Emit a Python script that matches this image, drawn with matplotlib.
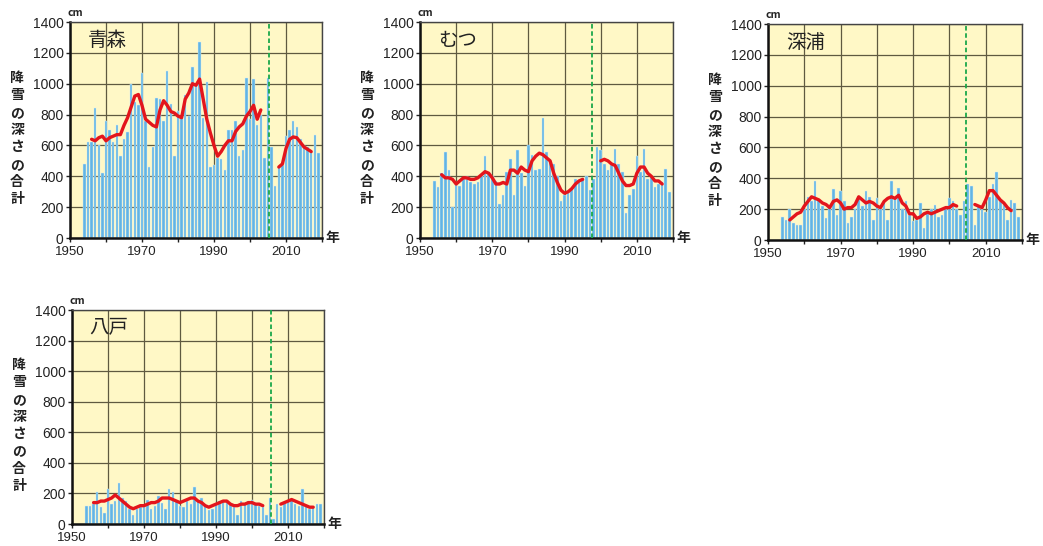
import matplotlib
matplotlib.use("Agg")
import matplotlib.pyplot as plt
import numpy as np

plt.rcParams['font.family'] = ['Noto Sans CJK JP', 'DejaVu Sans']

YEARS = list(range(1954, 2020))
NAN = np.nan

# 年ごとの降雪の深さの合計 (cm), 1954-2019
aomori = [480, 620, 620, 840, 600, 420, 760, 700, 620, 730,
          530, 640, 690, 1000, 880, 860, 1070, 760, 460, 590,
          910, 900, 760, 1080, 870, 530, 820, 780, 930, 790,
          1110, 990, 1270, 780, 1010, 460, 470, 520, 510, 440,
          700, 700, 760, 530, 570, 1040, 770, 1030, 730, 800,
          520, 1040, 590, 340, 460, 470, 660, 700, 760, 720,
          640, 600, 590, 560, 670, 550]
mutsu = [370, 330, 420, 560, 440, 200, 360, 340, 380, 400,
         360, 350, 360, 400, 530, 430, 400, 370, 220, 280,
         430, 510, 280, 570, 420, 340, 600, 540, 440, 450,
         780, 560, 510, 480, 400, 240, 280, 300, 320, 380,
         370, 380, 400, 310, 380, 590, 570, 480, 440, 470,
         580, 480, 430, 160, 280, 320, 530, 430, 580, 380,
         400, 330, 350, 360, 450, 300]
fukaura = [150, 130, 200, 110, 100, 100, 200, 280, 250, 380,
           260, 220, 140, 220, 330, 160, 320, 250, 110, 150,
           200, 270, 220, 320, 280, 130, 270, 200, 260, 130,
           380, 280, 340, 200, 250, 160, 120, 130, 240, 80,
           170, 200, 230, 150, 160, 200, 270, 250, 200, 160,
           250, 360, 350, 100, 220, 200, 180, 280, 360, 440,
           250, 230, 130, 260, 240, 150]
hachinohe = [115, 120, 130, 210, 110, 70, 230, 130, 150, 270,
             170, 150, 100, 60, 100, 110, 120, 160, 100, 120,
             180, 140, 100, 230, 210, 150, 120, 110, 150, 130,
             240, 150, 170, 120, 90, 100, 140, 150, 150, 160,
             140, 110, 60, 150, 130, 150, 160, 140, 120, 110,
             60, 170, 30, 130, 110, 140, 150, 160, 130, 120,
             230, 120, 100, 110, 130, 130]

# 5年移動平均 (cm), 1954-2019, 観測地点移転の前後で途切れる
aomori_ma = [NAN, NAN, 640, 630, 650, 660, 630, 650, 660, 670,
             670, 730, 780, 850, 920, 930, 860, 770, 750, 730,
             720, 830, 890, 860, 820, 810, 790, 780, 900, 940,
             1000, 990, 1030, 900, 770, 680, 600, 530, 560, 600,
             630, 630, 690, 720, 740, 790, 820, 860, 770, 830,
             NAN, NAN, NAN, NAN, 460, 480, 580, 640, 655, 650,
             620, 590, 575, 560, NAN, NAN]
mutsu_ma = [NAN, NAN, 410, 390, 390, 380, 350, 370, 390, 390,
            380, 380, 390, 410, 430, 420, 390, 350, 350, 360,
            350, 440, 440, 420, 460, 440, 430, 500, 530, 550,
            540, 520, 500, 420, 360, 310, 290, 300, 320, 350,
            370, 380, NAN, NAN, NAN, NAN, 500, 510, 500, 480,
            470, 420, 370, 340, 340, 350, 420, 460, 460, 420,
            400, 370, 370, 350, NAN, NAN]
fukaura_ma = [NAN, NAN, 130, 150, 170, 180, 220, 250, 280, 270,
              260, 240, 230, 210, 250, 260, 240, 200, 210, 210,
              230, 280, 260, 240, 250, 240, 220, 210, 250, 270,
              280, 270, 290, 240, 220, 170, 170, 140, 150, 170,
              180, 170, 180, 190, 200, 210, 210, 230, 220, NAN,
              NAN, NAN, NAN, 230, 220, 210, 260, 320, 320, 290,
              260, 240, 210, 190, NAN, NAN]
hachinohe_ma = [NAN, NAN, 140, 140, 150, 150, 160, 170, 190, 170,
                150, 130, 110, 100, 110, 120, 120, 130, 140, 140,
                150, 170, 170, 170, 160, 150, 140, 150, 160, 170,
                170, 150, 140, 120, 110, 120, 130, 140, 150, 150,
                130, 120, 120, 130, 130, 140, 140, 130, 130, 120,
                NAN, NAN, NAN, NAN, 130, 140, 150, 160, 150, 140,
                130, 120, 110, 110, NAN, NAN]

STATIONS = ["青森", "むつ", "深浦", "八戸"]
MOVES = [2005.3, 1997.6, 2004.5, 2005.3]

BG = "#FFF8C6"
BAR = "#62B4E4"
GRID = "#5f5a40"

fig = plt.figure(figsize=(10.43, 5.46), dpi=100)
W, H = 1043, 546

# panel boxes in pixels: left, top, right, bottom
boxes = [(70, 22, 322, 238), (420, 22, 673, 238),
         (768, 24, 1022, 240), (72, 310, 324, 524)]
data = [aomori, mutsu, fukaura, hachinohe]
mas = [aomori_ma, mutsu_ma, fukaura_ma, hachinohe_ma]

for (l, t, r, b), name, vals, ma, mv in zip(boxes, STATIONS, data, mas, MOVES):
    ax = fig.add_axes([l / W, (H - b) / H, (r - l) / W, (b - t) / H])
    ax.set_facecolor(BG)
    ax.bar(YEARS, vals, width=0.72, color=BAR, edgecolor="#d8eef8",
           linewidth=0.3, zorder=2)
    ax.plot(YEARS, ma, color="#e3151c", lw=2.4, zorder=4,
            solid_capstyle="round")
    ax.axvline(mv, color="#1aa84a", ls=(0, (2.5, 1.5)), lw=1.3, zorder=5)

    ax.set_xlim(1950, 2020)
    ax.set_ylim(0, 1400)
    ax.set_xticks(range(1950, 2021, 10))
    ax.set_xticklabels(["1950", "", "1970", "", "1990", "", "2010", ""])
    ax.set_yticks(range(0, 1401, 200))
    ax.grid(True, color=GRID, lw=0.9, zorder=1)
    ax.set_axisbelow(True)
    ax.tick_params(labelsize=10, length=3, width=1, colors="#222222",
                   pad=1.5)
    ax.tick_params(axis="x", pad=2.5, labelsize=9.5)
    for lab in ax.get_xticklabels() + ax.get_yticklabels():
        lab.set_family("Liberation Sans")
    for s in ax.spines.values():
        s.set_color("#444444")
        s.set_linewidth(1.0)
    ax.spines["left"].set_color("#111111")
    ax.spines["left"].set_linewidth(1.8)
    ax.spines["bottom"].set_color("#111111")
    ax.spines["bottom"].set_linewidth(1.8)

    ax.text(0.07, 0.965, name, transform=ax.transAxes, fontsize=14,
            ha="left", va="top", color="#222222", zorder=6)
    ax.text(-0.01, 1.02, "cm", transform=ax.transAxes, fontsize=7.5,
            ha="left", va="bottom", color="#222222", fontweight="bold")
    ax.text(1.015, 0.0, "年", transform=ax.transAxes, fontsize=10,
            ha="left", va="center", color="#222222", fontweight="bold")
    ax.text(-0.21, 0.46, "\n".join("降雪の深さの合計"), transform=ax.transAxes,
            fontsize=10, ha="center", va="center", color="#222222",
            fontweight="bold", linespacing=1.3)

fig.savefig("out.png", dpi=100, facecolor="white")
